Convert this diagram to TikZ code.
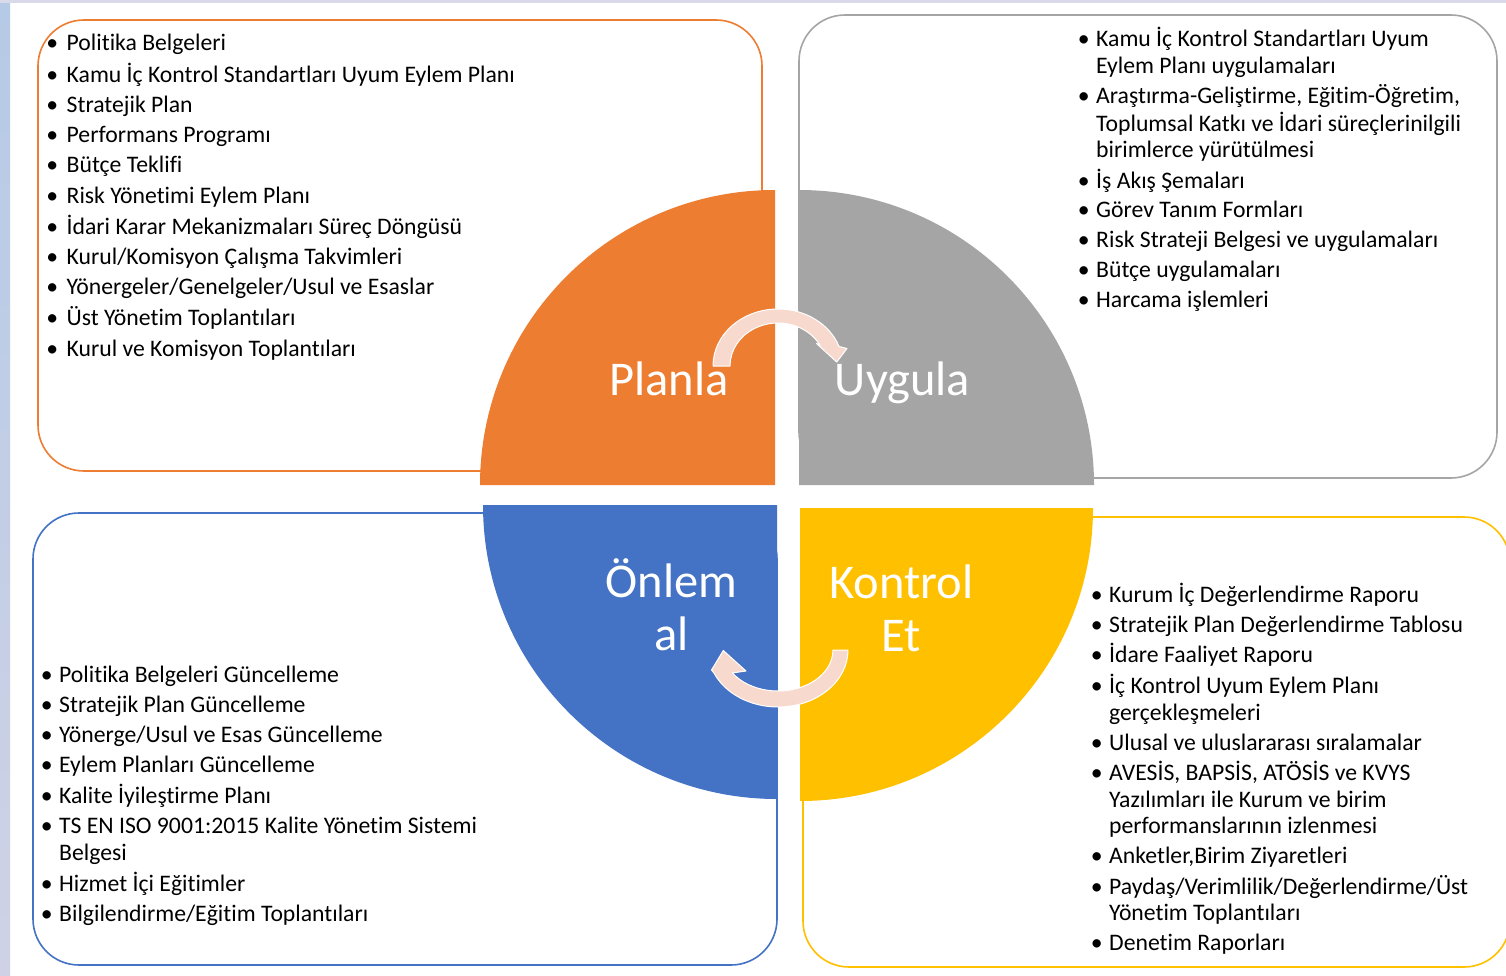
\documentclass[tikz,border=0pt]{standalone}
\usepackage{fontspec}
\setmainfont{Carlito}[Ligatures=NoCommon]
\usetikzlibrary{calc}
\definecolor{cOrange}{HTML}{ED7D31}
\definecolor{cGray}{HTML}{A5A5A5}
\definecolor{cBlue}{HTML}{4472C4}
\definecolor{cYellow}{HTML}{FFC000}
\definecolor{cArrow}{HTML}{F7D9CE}
\definecolor{cStripA}{HTML}{B5CAE6}
\definecolor{cStripB}{HTML}{CFD2E6}
\definecolor{cTop}{HTML}{D9DAE9}
\newcommand{\bul}[1]{\llap{\textbullet\hspace{6.5pt}}#1}
\newcommand{\bulw}[1]{\llap{\textbullet\hspace{8.5pt}}#1}
\begin{document}
\begin{tikzpicture}[x=1pt,y=-1pt,
  box/.style={draw, line width=1.6pt, rounded corners=46pt},
  lbl/.style={text=white, font=\fontsize{48.5pt}{53pt}\selectfont, inner sep=0pt, anchor=base},
  listtext/.style={inner sep=0pt, anchor=base west, font=\fontsize{23.7pt}{26.5pt}\selectfont, text=black},
  cyc/.style={fill=cArrow, draw=white, line width=1pt, line join=round}
]
\useasboundingbox (0,0) rectangle (1506,976);
\fill[white] (0,0) rectangle (1506,976);
\shade[top color=cStripA, bottom color=cStripB] (0,0) rectangle (10,976);
\fill[cTop] (0,0) rectangle (1506,3);

% boxes
\draw[box, draw=cOrange] (38,20) rectangle (762,471);
\draw[box, draw=cGray] (799,15) rectangle (1497,478);
\draw[box, draw=cBlue] (33,513) rectangle (777,965);
\draw[box, draw=cYellow] (803,517) rectangle (1510,967);

% quarter circles
\fill[cOrange] (775,485) -- (480,485) arc[start angle=180, end angle=270, radius=295] -- cycle;
\fill[cGray] (799,485) -- (799,190) arc[start angle=270, end angle=360, radius=295] -- cycle;
\fill[cBlue] (777,505) -- (483,505) arc[start angle=180, end angle=90, radius=294] -- cycle;
\fill[cYellow] (800,508) -- (1093,508) arc[start angle=0, end angle=90, radius=293] -- cycle;

% cycle arrows
\path[cyc] (713,366) arc[start angle=180, end angle=340, x radius=65, y radius=57]
  -- (847,348.5) -- (836.7,362) -- (816.5,343.5)
  -- ($(778,366)+(331:48 and 43)$) arc[start angle=331, end angle=180, x radius=48, y radius=43] -- cycle;
\path[cyc] (848,650) arc[start angle=0, end angle=156, x radius=70, y radius=57]
  -- (711.5,670) -- (723.3,650.5) -- (746,671)
  -- ($(778,650)+(146:55 and 41)$) arc[start angle=146, end angle=0, x radius=55, y radius=41] -- cycle;

% labels
\node[lbl] (planla) at (669,395) {Planla};
\node[lbl] (uygula) at (902.5,395) {Uygula};
\node[lbl] (onlem) at (671.5,597) {\begin{tabular}[t]{@{}c@{}}Önlem\\al\end{tabular}};
\node[lbl] (kontrol) at (901.5,598) {\begin{tabular}[t]{@{}c@{}}Kontrol\\Et\end{tabular}};

% lists
\node[listtext] (tl) at (66.5,51) {\begin{tabular}[t]{@{}l@{}}
\bulw{Politika Belgeleri}\\[3.8pt]
\bulw{Kamu İç Kontrol Standartları Uyum Eylem Planı}\\[3.8pt]
\bulw{Stratejik Plan}\\[3.8pt]
\bulw{Performans Programı}\\[3.8pt]
\bulw{Bütçe Teklifi}\\[3.8pt]
\bulw{Risk Yönetimi Eylem Planı}\\[3.8pt]
\bulw{İdari Karar Mekanizmaları Süreç Döngüsü}\\[3.8pt]
\bulw{Kurul/Komisyon Çalışma Takvimleri}\\[3.8pt]
\bulw{Yönergeler/Genelgeler/Usul ve Esaslar}\\[3.8pt]
\bulw{Üst Yönetim Toplantıları}\\[3.8pt]
\bulw{Kurul ve Komisyon Toplantıları}
\end{tabular}};

\node[listtext] (tr) at (1096,47) {\begin{tabular}[t]{@{}l@{}}
\bul{Kamu İç Kontrol Standartları Uyum}\\
Eylem Planı uygulamaları\\[3.3pt]
\bul{Araştırma-Geliştirme, Eğitim-Öğretim,}\\
Toplumsal Katkı ve İdari süreçlerinilgili\\
birimlerce yürütülmesi\\[3.3pt]
\bul{İş Akış Şemaları}\\[3.3pt]
\bul{Görev Tanım Formları}\\[3.3pt]
\bul{Risk Strateji Belgesi ve uygulamaları}\\[3.3pt]
\bul{Bütçe uygulamaları}\\[3.3pt]
\bul{Harcama işlemleri}
\end{tabular}};

\node[listtext] (bl) at (59,682) {\begin{tabular}[t]{@{}l@{}}
\bul{Politika Belgeleri Güncelleme}\\[3.7pt]
\bul{Stratejik Plan Güncelleme}\\[3.7pt]
\bul{Yönerge/Usul ve Esas Güncelleme}\\[3.7pt]
\bul{Eylem Planları Güncelleme}\\[3.7pt]
\bul{Kalite İyileştirme Planı}\\[3.7pt]
\bul{TS EN ISO 9001:2015 Kalite Yönetim Sistemi}\\
Belgesi\\[3.7pt]
\bul{Hizmet İçi Eğitimler}\\[3.7pt]
\bul{Bilgilendirme/Eğitim Toplantıları}
\end{tabular}};

\node[listtext] (br) at (1109,602) {\begin{tabular}[t]{@{}l@{}}
\bul{Kurum İç Değerlendirme Raporu}\\[3.5pt]
\bul{Stratejik Plan Değerlendirme Tablosu}\\[3.5pt]
\bul{İdare Faaliyet Raporu}\\[3.5pt]
\bul{İç Kontrol Uyum Eylem Planı}\\
gerçekleşmeleri\\[3.5pt]
\bul{Ulusal ve uluslararası sıralamalar}\\[3.5pt]
\bul{AVESİS, BAPSİS, ATÖSİS ve KVYS}\\
Yazılımları ile Kurum ve birim\\
performanslarının izlenmesi\\[3.5pt]
\bul{Anketler,Birim Ziyaretleri}\\[3.5pt]
\bul{Paydaş/Verimlilik/Değerlendirme/Üst}\\
Yönetim Toplantıları\\[3.5pt]
\bul{Denetim Raporları}
\end{tabular}};
\end{tikzpicture}
\end{document}
